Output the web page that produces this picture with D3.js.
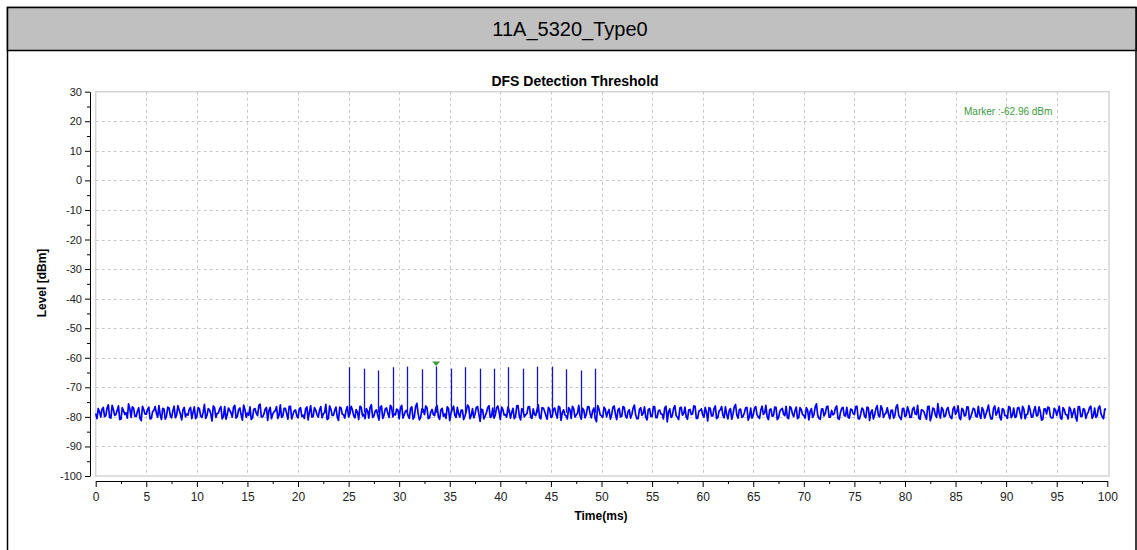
<!DOCTYPE html>
<html>
<head>
<meta charset="utf-8">
<script src="https://cdn.jsdelivr.net/npm/d3@7"></script>
<style>
  body { margin: 0; background: #fff; }
  svg { display: block; font-family: Arial, "Liberation Sans", sans-serif; }
</style>
</head>
<body>
<div class="chart"></div>
<script>
// sheet title and chart titles
var sheetTitle = "11A_5320_Type0";
var chartTitle = "DFS Detection Threshold";
var xLabel = "Time(ms)";
var yLabel = "Level [dBm]";

// axes
var xTicks = [0, 5, 10, 15, 20, 25, 30, 35, 40, 45, 50, 55, 60, 65, 70, 75, 80, 85, 90, 95, 100];
var yTicks = [30, 20, 10, 0, -10, -20, -30, -40, -50, -60, -70, -80, -90, -100];

// radar pulses (ms, dBm)
var pulseTimes = [25.06, 26.50, 27.94, 29.38, 30.80, 32.23, 33.65, 35.08, 36.51,
                  37.94, 39.37, 40.80, 42.22, 43.65, 45.08, 46.51, 47.94, 49.37];
var pulsePeaks = [-63.2, -63.7, -64.3, -63.2, -63.0, -63.9, -62.96, -63.7, -63.2,
                  -63.7, -63.7, -63.2, -63.7, -63.0, -63.0, -63.9, -64.3, -63.7];
var pulseBase = -78.6;

// marker
var markerTime = 33.65;
var markerLevel = -62.96;

// noise floor, samples every 0.25 ms (noiseA at 0, 0.25 ...; noiseB half a step later)
var noiseStep = 0.25;
var noiseA = [
  -78.9,-77.2,-80.1,-76.8,-79.6,-75.9,-80.4,-77.5,-79.2,-76.3,-80.8,-77.9,-78.6,-75.6,-80.2,-77.1,-79.9,-76.9,-81.3,-77.6,
  -79.1,-76.7,-80.5,-77.8,-78.8,-76.2,-80.9,-77.3,-79.7,-77.0,-80.3,-76.4,-79.4,-77.7,-81.0,-76.8,-79.0,-77.4,-80.6,-76.6,
  -79.8,-77.2,-80.2,-75.8,-79.5,-77.6,-81.4,-76.9,-78.9,-77.3,-80.7,-76.5,-79.3,-77.8,-80.1,-76.1,-79.9,-77.0,-81.1,-77.5,
  -78.7,-76.6,-80.4,-77.2,-79.6,-75.7,-80.0,-77.4,-81.2,-76.8,-79.1,-77.9,-80.5,-75.9,-79.7,-77.1,-80.8,-76.4,-79.2,-77.6,
  -80.3,-76.9,-79.4,-77.3,-81.0,-76.2,-79.8,-77.7,-80.1,-76.5,-79.0,-75.8,-80.6,-77.4,-79.5,-76.7,-81.2,-77.0,-79.3,-77.8,
  -80.0,-76.4,-79.6,-77.5,-80.9,-76.8,-79.1,-77.2,-80.4,-75.9,-79.7,-77.6,-81.1,-76.3,-79.4,-77.0,-80.2,-76.7,-78.9,-77.4,
  -80.7,-76.1,-79.3,-77.8,-80.5,-76.6,-79.9,-75.4,-81.0,-77.3,-79.2,-76.9,-80.3,-77.5,-79.6,-76.2,-80.8,-77.1,-79.0,-76.6,
  -81.3,-77.4,-79.5,-76.8,-80.1,-77.7,-79.8,-76.0,-80.6,-77.2,-79.1,-76.5,-81.5,-77.6,-79.7,-76.9,-80.2,-77.0,-79.4,-76.3,
  -80.9,-77.5,-79.2,-76.7,-80.4,-77.1,-79.9,-76.2,-81.0,-77.8,-79.3,-76.6,-80.1,-77.3,-79.6,-75.9,-80.7,-77.0,-79.5,-76.8,
  -80.2,-77.4,-79.0,-76.4,-81.2,-77.6,-79.7,-76.9,-80.5,-77.2,-79.4,-76.1,-80.8,-77.7,-79.1,-76.5,-80.3,-77.0,-81.6,-77.3,
  -79.6,-76.7,-80.0,-77.5,-79.3,-76.3,-80.9,-77.1,-79.8,-76.8,-80.4,-77.6,-79.2,-76.0,-80.6,-77.4,-79.5,-76.6,-81.0,-77.2,
  -79.9,-76.5,-80.3,-77.7,-79.1,-76.9,-81.7,-77.3,-79.6,-76.2,-80.1,-77.0,-79.4,-76.7,-80.8,-77.5,-79.0,-76.4,-80.5,-77.8,
  -79.3,-76.8,-81.4,-77.1,-79.7,-76.3,-80.2,-77.6,-79.5,-76.6,-80.7,-77.2,-79.0,-75.8,-80.4,-77.4,-79.8,-76.9,-81.1,-77.0,
  -79.4,-76.5,-80.0,-77.7,-79.2,-76.1,-80.9,-77.3,-79.6,-76.8,-80.3,-77.5,-79.1,-76.4,-80.6,-77.0,-79.9,-76.7,-80.2,-77.6,
  -79.5,-76.9,-81.0,-77.2,-79.3,-75.6,-80.5,-77.4,-79.7,-76.6,-80.1,-77.8,-79.0,-76.3,-80.8,-77.1,-79.6,-76.8,-80.4,-77.5,
  -79.2,-76.4,-80.7,-77.0,-79.8,-76.7,-81.2,-77.6,-79.4,-76.2,-80.0,-77.3,-79.1,-76.9,-80.6,-77.7,-79.5,-75.9,-80.3,-77.2,
  -79.9,-76.6,-80.2,-77.4,-79.0,-76.1,-80.8,-77.8,-79.6,-76.5,-81.3,-77.0,-79.3,-75.5,-80.4,-77.5,-79.7,-76.8,-80.1,-77.3,
  -79.2,-76.3,-80.9,-77.6,-79.5,-76.7,-80.0,-77.1,-79.8,-76.4,-80.5,-77.7,-79.1,-76.0,-80.7,-77.2,-79.4,-76.9,-81.0,-77.5,
  -79.6,-76.5,-80.3,-77.0,-79.9,-76.8,-80.6,-77.4,-79.2,-76.2,-80.1,-77.8,-79.7,-76.6,-81.1,-77.3,-79.0,-76.9,-80.4,-77.1,
  -79.5,-76.4,-80.8,-77.6,-79.3,-76.7,-80.2,-77.2,-81.4,-76.5,-79.8,-77.5,-79.1,-76.8,-80.5,-77.0,-79.6,-76.3,-80.0,-77.4
];
var noiseB = [
  -80.6,-78.3,-77.4,-79.9,-77.0,-80.2,-76.1,-79.5,-77.8,-80.9,-76.9,-79.2,-80.4,-77.3,-76.6,-79.8,-78.1,-80.5,-76.4,-79.0,
  -77.5,-80.7,-78.2,-76.5,-80.1,-79.3,-77.1,-80.8,-76.7,-79.6,-78.0,-80.3,-76.2,-79.1,-77.6,-80.0,-79.4,-76.8,-78.5,-80.6,
  -76.9,-79.7,-78.4,-80.5,-77.2,-79.0,-76.3,-80.2,-78.7,-76.5,-79.9,-80.8,-77.0,-78.6,-76.7,-80.4,-77.5,-79.3,-76.0,-80.1,
  -79.5,-80.9,-77.4,-78.8,-76.2,-80.0,-79.1,-76.8,-77.9,-80.6,-78.3,-76.5,-79.4,-80.2,-77.1,-78.9,-76.4,-80.7,-78.0,-79.6,
  -77.3,-79.8,-80.5,-76.6,-78.4,-80.1,-76.9,-79.2,-77.7,-80.3,-78.6,-80.9,-76.3,-79.5,-77.8,-80.0,-76.7,-79.1,-80.4,-76.5,
  -79.0,-77.6,-80.3,-78.5,-76.4,-79.7,-80.6,-77.9,-76.8,-80.2,-78.1,-79.4,-76.6,-80.5,-77.3,-78.8,-76.1,-80.0,-79.3,-77.7,
  -76.8,-80.4,-78.0,-79.6,-77.1,-80.8,-76.5,-78.9,-80.1,-77.5,-76.3,-80.6,-78.4,-79.2,-76.9,-80.0,-77.6,-79.8,-80.5,-77.2,
  -78.7,-76.4,-80.2,-79.0,-77.7,-80.9,-78.2,-76.6,-79.5,-80.3,-76.8,-79.1,-77.4,-80.7,-78.6,-76.2,-79.9,-80.4,-77.0,-78.3,
  -76.7,-79.4,-80.1,-77.8,-78.5,-80.6,-76.3,-79.7,-77.2,-80.0,-78.9,-76.5,-80.5,-79.2,-77.6,-80.2,-76.9,-78.1,-80.8,-77.4,
  -79.8,-77.0,-80.4,-76.7,-78.6,-79.3,-80.7,-77.5,-76.4,-80.1,-78.8,-79.6,-77.1,-80.3,-76.6,-79.0,-77.9,-80.5,-76.2,-79.4,
  -80.2,-77.4,-78.5,-80.8,-76.8,-79.1,-77.7,-80.0,-76.5,-79.6,-78.2,-80.4,-77.0,-79.3,-80.6,-76.9,-78.7,-80.1,-77.5,-79.8,
  -76.6,-80.3,-77.9,-79.0,-80.7,-76.4,-78.3,-80.2,-77.1,-79.5,-80.9,-76.7,-78.9,-80.0,-77.6,-79.2,-76.3,-80.5,-78.1,-77.3,
  -80.1,-78.4,-76.9,-79.7,-77.2,-80.6,-78.0,-76.5,-80.3,-79.1,-77.8,-80.8,-76.6,-79.4,-77.5,-80.2,-78.6,-76.8,-79.9,-80.4,
  -77.0,-79.3,-80.5,-76.4,-78.7,-80.0,-77.6,-79.8,-76.7,-80.9,-78.2,-77.1,-79.6,-80.3,-76.5,-79.0,-77.9,-80.6,-76.9,-79.2,
  -80.4,-77.7,-78.1,-80.2,-76.6,-79.5,-80.8,-77.3,-78.8,-76.4,-80.1,-79.3,-77.0,-80.5,-78.5,-76.8,-79.7,-80.0,-77.4,-78.9,
  -76.5,-80.6,-79.0,-77.5,-80.3,-76.9,-78.4,-80.7,-77.2,-79.6,-76.3,-80.2,-78.7,-79.1,-77.8,-80.4,-76.6,-79.4,-80.9,-77.1,
  -79.5,-78.0,-80.1,-76.7,-79.2,-80.5,-77.6,-78.3,-80.8,-76.4,-79.8,-77.3,-80.2,-78.9,-76.8,-80.0,-77.5,-79.1,-80.6,-76.5,
  -78.2,-80.3,-77.1,-79.7,-76.6,-80.9,-78.6,-77.4,-80.0,-79.3,-76.9,-80.4,-77.8,-79.0,-80.7,-76.3,-78.5,-80.1,-77.2,-79.6,
  -80.5,-76.8,-79.4,-80.2,-77.0,-78.8,-76.4,-80.6,-79.1,-77.7,-80.0,-76.5,-79.5,-78.2,-80.8,-77.3,-76.7,-79.9,-80.3,-77.6,
  -78.0,-80.4,-76.9,-79.2,-80.7,-77.5,-78.6,-80.1,-76.6,-79.8,-77.2,-80.5,-78.3,-76.4,-79.6,-80.2,-77.0,-78.9,-80.6,-77.4
];

// interleave the two sample sets into one trace
var trace = [];
noiseA.forEach(function(v, i) {
    trace.push({ t: i * noiseStep, v: v });
    trace.push({ t: i * noiseStep + noiseStep / 2, v: noiseB[i] });
});

var width = 1137;
var height = 550;

var svg = d3.select(".chart").append("svg")
    .attr("width", width)
    .attr("height", height);

// sheet frame + grey header
svg.append("rect")
    .attr("x", 7.5).attr("y", 7.5)
    .attr("width", 1128.5).attr("height", 560)
    .attr("fill", "#fff").attr("stroke", "#000").attr("stroke-width", 1.5);
svg.append("rect")
    .attr("x", 7.5).attr("y", 7.5)
    .attr("width", 1128.5).attr("height", 43)
    .attr("fill", "#c0c0c0").attr("stroke", "#000").attr("stroke-width", 1.5);
svg.append("text")
    .attr("x", 570).attr("y", 36)
    .attr("text-anchor", "middle")
    .style("font-size", "20px")
    .attr("fill", "#000")
    .text(sheetTitle);

var plot = { left: 95.7, right: 1107.3, top: 91.7, bottom: 476 };

var x = d3.scaleLinear().domain([0, 100]).range([plot.left, plot.right]);
var y = d3.scaleLinear().domain([-100, 30]).range([plot.bottom, plot.top]);

// plot frame
svg.append("rect")
    .attr("x", plot.left).attr("y", plot.top)
    .attr("width", 1109 - plot.left).attr("height", plot.bottom - plot.top)
    .attr("fill", "#fff").attr("stroke", "#d4d4d4").attr("stroke-width", 1.5);

// grid
var grid = svg.append("g").attr("stroke", "#c8c8c8").attr("stroke-dasharray", "3,3");
grid.selectAll(".vg")
    .data(xTicks.filter(function(d) { return d > 0 && d < 100; }))
    .enter().append("line")
    .attr("x1", function(d) { return Math.round(x(d)) + 0.5; })
    .attr("x2", function(d) { return Math.round(x(d)) + 0.5; })
    .attr("y1", plot.top).attr("y2", plot.bottom);
grid.selectAll(".hg")
    .data(yTicks.filter(function(d) { return d > -100 && d < 30; }))
    .enter().append("line")
    .attr("x1", plot.left).attr("x2", 1109)
    .attr("y1", function(d) { return Math.round(y(d)) + 0.5; })
    .attr("y2", function(d) { return Math.round(y(d)) + 0.5; });

// axes
var yAxis = svg.append("g")
    .attr("transform", "translate(90,0)")
    .call(d3.axisLeft(y).tickValues(yTicks).tickSize(5).tickSizeOuter(0).tickPadding(3)
        .tickFormat(function(d) { return d; }));
var yMinor = svg.append("g")
    .attr("transform", "translate(90,0)")
    .call(d3.axisLeft(y).tickValues(yTicks.slice(1).map(function(d) { return d + 5; }))
        .tickSize(3).tickFormat(""));
yMinor.select(".domain").remove();
yAxis.selectAll("text").style("font-size", "11px").attr("fill", "#222");

var xAxis = svg.append("g")
    .attr("transform", "translate(0,481)")
    .call(d3.axisBottom(x).tickValues(xTicks).tickSize(6).tickSizeOuter(0).tickPadding(5));
var xMinor = svg.append("g")
    .attr("transform", "translate(0,481)")
    .call(d3.axisBottom(x).tickValues(xTicks.slice(1).map(function(d) { return d - 2.5; }))
        .tickSize(3).tickFormat(""));
xMinor.select(".domain").remove();
xAxis.selectAll("text").style("font-size", "12px").attr("fill", "#222");

// titles
svg.append("text")
    .attr("x", 575).attr("y", 86)
    .attr("text-anchor", "middle")
    .style("font-size", "14px").style("font-weight", "bold")
    .text(chartTitle);
svg.append("text")
    .attr("x", 601).attr("y", 520)
    .attr("text-anchor", "middle")
    .style("font-size", "12px").style("font-weight", "bold")
    .text(xLabel);
svg.append("text")
    .attr("transform", "translate(46,283) rotate(-90)")
    .attr("text-anchor", "middle")
    .style("font-size", "12px").style("font-weight", "bold")
    .text(yLabel);

// trace
var line = d3.line()
    .x(function(d) { return x(d.t); })
    .y(function(d) { return y(d.v); });

svg.append("path")
    .datum(trace)
    .attr("d", line)
    .attr("fill", "none")
    .attr("stroke", "#0000ff")
    .attr("stroke-width", 1.7)
    .attr("stroke-linejoin", "round");

svg.append("g").selectAll("line")
    .data(pulseTimes)
    .enter().append("line")
    .attr("x1", function(d) { return Math.round(x(d)) + 0.5; })
    .attr("x2", function(d) { return Math.round(x(d)) + 0.5; })
    .attr("y1", y(pulseBase))
    .attr("y2", function(d, i) { return y(pulsePeaks[i]); })
    .attr("stroke", "#1414c8")
    .attr("stroke-width", 1.3);

// marker
var mx = x(markerTime), my = y(markerLevel);
svg.append("path")
    .attr("d", "M" + (mx - 4) + "," + (my - 5) + "L" + (mx + 4) + "," + (my - 5) + "L" + mx + "," + (my - 0.5) + "Z")
    .attr("fill", "#3c9a3c");
svg.append("text")
    .attr("x", 964).attr("y", 115)
    .style("font-size", "10px")
    .attr("fill", "#3c9a3c")
    .text("Marker :" + markerLevel.toFixed(2) + " dBm");
</script>
</body>
</html>
